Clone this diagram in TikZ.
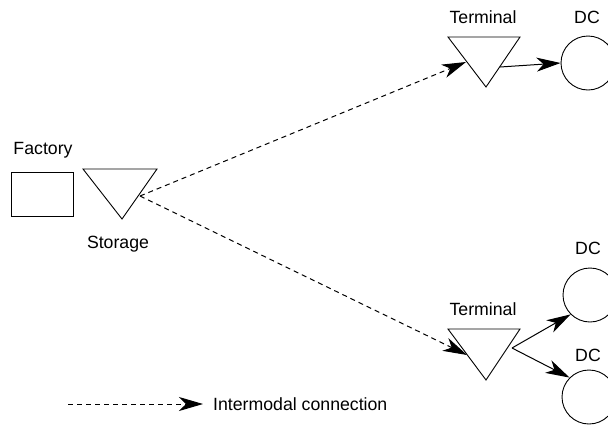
\documentclass[tikz,border=0pt]{standalone}
\usepackage{fontspec}
\setmainfont{Liberation Sans}
\usetikzlibrary{arrows.meta}
\begin{document}
\begin{tikzpicture}[x=1pt,y=-1pt,
  lbl/.style={font=\fontsize{17.7}{20}\selectfont, inner sep=0pt},
  site/.style={draw, line width=0.9pt},
  dcnode/.style={site, circle, minimum size=54pt, inner sep=0pt},
  flow/.style={line width=1pt, -{Stealth[length=24pt,width=14pt,inset=7pt]}},
  intermodal/.style={flow, dash pattern=on 5pt off 4pt}]
\useasboundingbox (0,0) rectangle (608,424);

% factory and its storage
\node[site, minimum width=62pt, minimum height=44pt, inner sep=0pt] (factory) at (42,194) {};
\node[lbl] (factorylbl) at (43,150) {Factory};
\draw[site] (83,169) -- (157,169) -- (122,219) -- cycle;
\coordinate (storage) at (140,196);
\node[lbl] (storagelbl) at (118,244) {Storage};

% upper terminal
\draw[site] (448,37) -- (520,37) -- (486,87) -- cycle;
\coordinate (termAin) at (466,62);
\coordinate (termAout) at (500,67);
\node[lbl] (termAlbl) at (483,17) {Terminal};

% lower terminal
\draw[site] (448,329) -- (520,329) -- (486,380) -- cycle;
\coordinate (termBin) at (467,355);
\coordinate (termBout) at (512,348);
\node[lbl] (termBlbl) at (483,309) {Terminal};

% distribution centres
\node[dcnode] (dcA) at (588,63) {};
\node[lbl] (dcAlbl) at (587,17) {DC};
\node[dcnode] (dcB) at (590,295) {};
\node[lbl] (dcBlbl) at (588,248) {DC};
\node[dcnode] (dcC) at (589,397) {};
\node[lbl] (dcClbl) at (588,355) {DC};

% intermodal links
\draw[intermodal] (storage) -- (termAin);
\draw[intermodal] (storage) -- (termBin);

% road links
\draw[flow] (termAout) -- (dcA.west);
\draw[flow] (termBout) -- (dcB.south west);
\draw[flow] (termBout) -- (dcC.north west);

% legend
\coordinate (legA) at (68,404);
\coordinate (legB) at (203,404);
\draw[intermodal] (legA) -- (legB);
\node[lbl, anchor=west] (leglbl) at (213,404) {Intermodal connection};
\end{tikzpicture}
\end{document}
